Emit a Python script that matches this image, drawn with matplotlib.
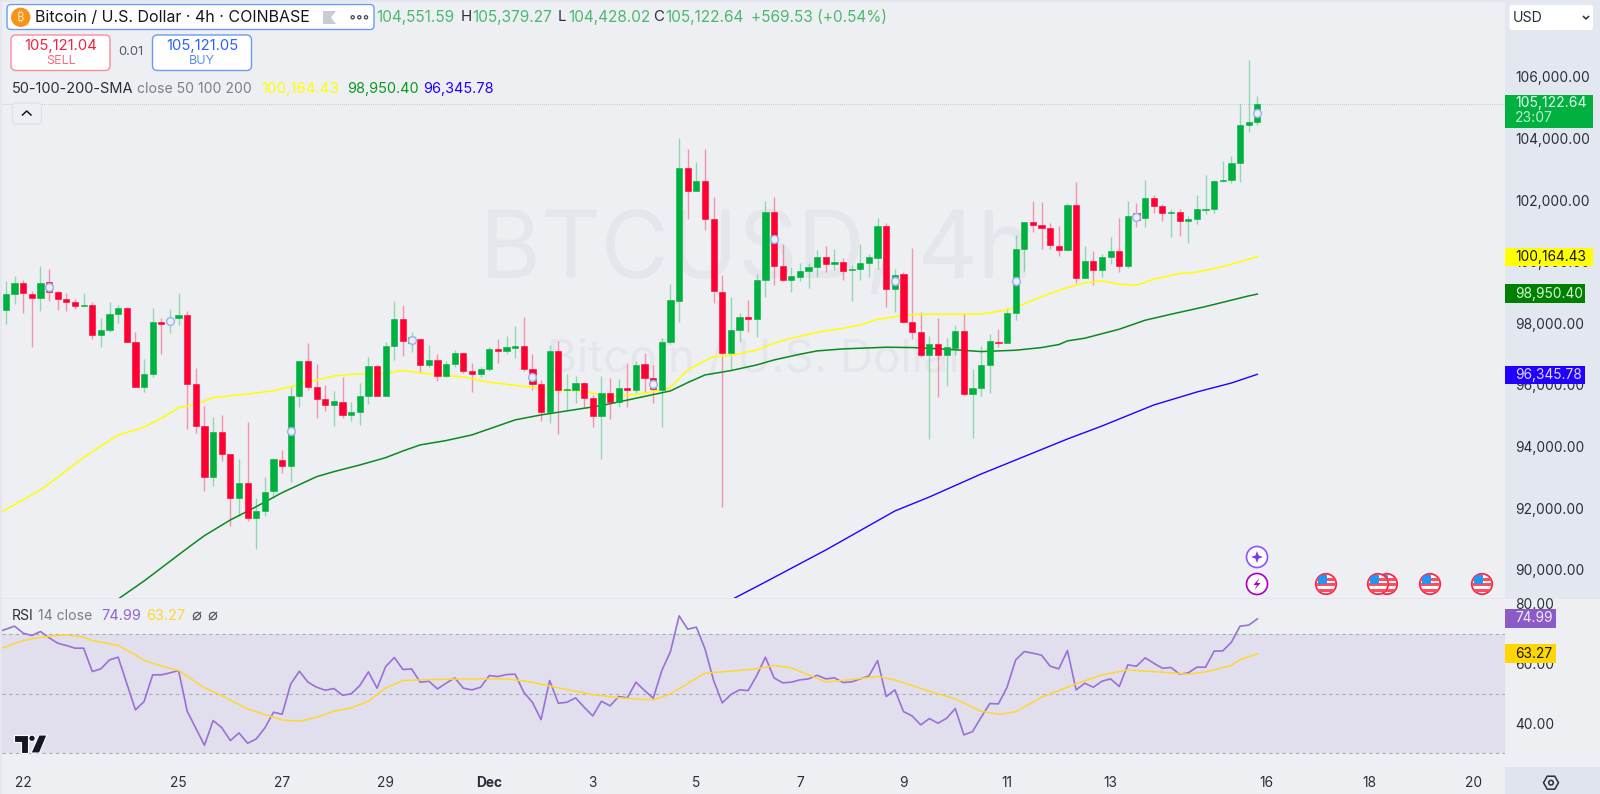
import numpy as np
import matplotlib
matplotlib.use('Agg')
import matplotlib.pyplot as plt
from matplotlib.patches import Rectangle, Circle, FancyBboxPatch, Polygon

plt.rcParams['font.family'] = ['Inter', 'DejaVu Sans']

# ---------------------------------------------------------
# DATA
# ---------------------------------------------------------

candle_dirs = ('GGRRGRRRRG' 'RGGGRRGGRG' 'GRRRGRRGRG' 'GGRGGRRRGR' 'GGGRGGRGRG'
               'RGGRRGGRGG' 'RRRGRGGRRG' 'RGRGRRGGGR' 'GRRRGGRGGR' 'RGGGGRGRGG'
               'GGRGRRRGRG' 'GRGGGRGGGR' 'RRRGRGRGGR' 'GRGRRGRGGG' 'GGGGGG')

highs = [99385, 99537, 99407, 99050, 99861, 99764, 99061, 98996, 98779, 98996,
         98704, 98163, 98704, 98596, 98520, 97730, 96832, 98487, 98184, 98466,
         98996, 98390, 96540, 95328, 94949, 95014, 93770, 93607, 94809, 92320,
         93002, 93629, 93889, 95945, 96789, 97373, 96680, 95988, 95815, 96258,
         95436, 96053, 96897, 96648, 97384, 98736, 98598, 97733, 97495, 97289,
         97008, 96781, 97138, 97084, 96727, 96575, 97246, 97484, 97592, 97917,
         98220, 97008, 96164, 97300, 97441, 96359, 96294, 96110, 95677, 96294,
         96218, 96196, 96705, 96791, 97030, 96651, 97516, 99269, 104008, 103662,
         103251, 103662, 102115, 99572, 98847, 98350, 98761, 99605, 101985, 102093,
         100568, 99821, 99952, 99952, 100385, 100515, 100417, 100114, 99898, 100580,
         100255, 101435, 101272, 99768, 99682, 100439, 98362, 97593, 98188, 97518,
         97950, 98329, 96522, 97269, 97658, 97810, 98491, 100872, 101305, 101986,
         101954, 101272, 101164, 101900, 102603, 100526, 100363, 100255, 100796, 101413,
         101976, 101921, 102657, 102170, 101878, 101727, 101727, 101489, 102159, 102809,
         102646, 103285, 103436, 105124, 106552, 105379.27]

body_tops = [98953, 99299, 99299, 98953, 99299, 99331, 99017, 98779, 98682, 98585,
             98585, 97784, 98314, 98509, 98509, 97394, 96356, 98033, 98033, 98152,
             98282, 98282, 96020, 94657, 94484, 94484, 93770, 92828, 92828, 91920,
             92536, 93586, 93553, 95642, 96789, 96789, 95945, 95544, 95479, 95458,
             95122, 95652, 96605, 96605, 97275, 98152, 98144, 97571, 97495, 96824,
             96824, 96683, 97051, 97051, 96467, 96532, 97181, 97181, 97224, 97257,
             97268, 96532, 96045, 97116, 97116, 95861, 96078, 96078, 95569, 95742,
             95742, 95915, 95915, 96651, 96672, 96240, 97397, 98750, 103056, 103056,
             102634, 102634, 101379, 99031, 97787, 98209, 98209, 99421, 101617, 101617,
             99875, 99540, 99714, 99822, 100158, 100158, 99995, 99985, 99757, 99952,
             100147, 101175, 101175, 99573, 99595, 98059, 97734, 97323, 97323, 97226,
             97767, 97767, 95895, 96663, 97431, 97410, 98340, 100417, 101283, 101283,
             101197, 101088, 100526, 101846, 101846, 100039, 100017, 100169, 100342, 100342,
             101499, 101575, 102073, 102073, 101824, 101608, 101608, 101402, 101705, 101727,
             102635, 102657, 103209, 104442, 104540, 105122.64]

body_bottoms = [98433, 98953, 98974, 98834, 98834, 99007, 98779, 98682, 98563, 98552,
                97622, 97622, 97784, 98314, 97394, 95945, 95945, 96356, 97979, 98022,
                98163, 96020, 94657, 93002, 93002, 93770, 92342, 92342, 91671, 91671,
                91920, 92558, 93380, 93380, 95642, 95945, 95544, 95350, 95350, 95025,
                95025, 95122, 95652, 95642, 95642, 97275, 97419, 97354, 96651, 96651,
                96294, 96294, 96683, 96467, 96370, 96348, 96521, 97095, 97095, 97213,
                96521, 96034, 95115, 95115, 95839, 95829, 95839, 95569, 94985, 94985,
                95439, 95439, 95829, 95829, 96229, 95861, 95839, 97397, 98739, 102299,
                102299, 101379, 99042, 97040, 97040, 97776, 98133, 98144, 99421, 99875,
                99421, 99421, 99519, 99703, 99844, 99920, 99920, 99703, 99725, 99757,
                99974, 100125, 99119, 99119, 98037, 97734, 96987, 96987, 96987, 96987,
                97193, 95700, 95700, 95895, 96663, 97366, 97366, 98329, 100417, 101186,
                101088, 100536, 100374, 100374, 99476, 99465, 99736, 99736, 100169, 99876,
                99876, 101359, 101424, 101824, 101575, 101575, 101326, 101326, 101391, 101694,
                101705, 102625, 102657, 103209, 104453, 104551.59]

lows = [97968, 98628, 98325, 97221, 98401, 98725, 98433, 98412, 98466, 98552,
        97492, 97221, 97730, 98022, 97384, 95945, 95782, 96248, 97005, 97676,
        97946, 94560, 94451, 92558, 92731, 93543, 91433, 91757, 91584, 90675,
        91757, 92320, 93131, 92861, 95274, 95836, 94917, 95155, 94679, 94917,
        94841, 94700, 95382, 95642, 95642, 96810, 96943, 97073, 96380, 96597,
        96142, 96272, 96575, 96402, 95774, 96250, 96467, 96727, 97008, 96867,
        96445, 95839, 94844, 94779, 94400, 95190, 95407, 95266, 94628, 93589,
        94887, 95298, 95277, 95731, 95731, 95407, 94649, 97332, 98057, 101379,
        102299, 101033, 98653, 92050, 96489, 97408, 97733, 97571, 98869, 99248,
        99388, 99031, 99389, 99141, 99519, 99682, 99736, 99411, 98740, 99411,
        99519, 99768, 98524, 98383, 98005, 97485, 96923, 94239, 95624, 95970,
        96977, 95678, 94293, 95657, 95732, 97226, 97355, 98113, 99714, 100980,
        100407, 100428, 100201, 100363, 99325, 99465, 99249, 99498, 99920, 99682,
        99801, 101121, 101142, 101597, 101316, 100818, 100839, 100601, 101229, 101543,
        101575, 102603, 102549, 102603, 104226, 104428.02]

sma50_idx = [-1, 4, 6, 9, 11, 13, 16, 18, 20, 22, 24, 28, 31, 33, 36, 38, 40, 44,
             46, 50, 53, 56, 59, 61, 63, 67, 69, 71, 74, 76, 77, 79, 81, 82, 84, 87, 89, 91,
             94, 97, 99, 101, 104, 106, 110, 113, 116, 118, 120, 123, 125, 127, 129, 131,
             133, 136, 138, 141, 144, 145]
sma50 = [91800, 92590, 93002, 93651, 94019, 94376, 94625, 94917, 95263, 95382, 95588,
         95707, 95815, 95945, 96161, 96291, 96345, 96378, 96470, 96326, 96261, 96088,
         95991, 95926, 95839, 95818, 95655, 95623, 95731, 95839, 95926, 96488, 96791,
         96921, 96954, 97138, 97354, 97516, 97712, 97842, 97950, 98134, 98264, 98297,
         98297, 98308, 98437, 98632, 98870, 99162, 99314, 99379, 99271, 99238, 99433,
         99617, 99660, 99844, 100082, 100164.43]

sma100_idx = [13, 16, 21, 23, 26, 29, 32, 36, 38, 41, 44, 46, 48, 51, 54, 56, 59, 62,
              65, 69, 73, 77, 79, 81, 84, 87, 89, 92, 94, 97, 102, 105, 109, 113, 117,
              120, 122, 123, 125, 129, 132, 135, 139, 144, 145]
sma100 = [89050, 89635, 90697, 91108, 91617, 92049, 92504, 93023, 93186, 93402, 93640,
          93857, 94054, 94195, 94379, 94574, 94866, 95028, 95158, 95331, 95569, 95807,
          96077, 96326, 96467, 96651, 96813, 96998, 97106, 97171, 97226, 97215, 97161,
          97085, 97128, 97215, 97312, 97431, 97518, 97810, 98102, 98297, 98546, 98892,
          98950.40]

sma200_idx = [84, 88, 95, 103, 107, 113, 123, 127, 133, 138, 142, 145]
sma200 = [89018, 89603, 90642, 91908, 92363, 93109, 94246, 94668, 95350, 95772, 96064,
          96345.78]

circle_idx = [5, 19, 33, 47, 61, 75, 89, 103, 117, 131, 145]
circle_price = [99169, 98087, 94495, 97452, 96272, 96034, 100752, 99368, 99379, 101467, 104821]

# first RSI value is one bar left of the visible window
rsi = [70.56,
       71.56, 72.57, 70.22, 69.44, 70.78, 68.66, 66.87, 66.09, 65.2, 65.2,
       57.37, 58.27, 61.28, 62.18, 53.35, 44.53, 47.32, 56.26, 56.26, 56.93,
       57.71, 44.08, 38.38, 32.68, 40.95, 38.6, 34.25, 36.82, 33.35, 34.8,
       38.49, 43.74, 43.07, 53.24, 57.49, 53.8, 52.12, 51.12, 51.68, 49.44,
       49.89, 52.68, 57.26, 51.79, 59.05, 62.07, 58.04, 58.27, 53.8, 54.13,
       51.56, 53.46, 55.25, 51.79, 51.23, 52.12, 56.03, 55.7, 56.37, 56.48,
       50.45, 47.09, 41.28, 54.36, 46.76, 47.09, 48.55, 45.42, 42.51, 47.43,
       45.87, 49.0, 48.55, 53.8, 51.0, 48.44, 57.71, 64.08, 76.03, 71.56,
       72.23, 64.97, 54.36, 46.87, 49.66, 51.23, 51.0, 56.03, 62.18, 55.25,
       53.58, 53.8, 54.58, 54.92, 56.15, 54.92, 55.25, 53.69, 53.91, 54.92,
       55.92, 61.06, 49.0, 51.23, 43.97, 42.51, 39.5, 41.62, 40.06, 41.73,
       44.97, 36.15, 37.26, 42.07, 46.65, 46.54, 52.12, 61.28, 64.08, 63.52,
       62.85, 59.16, 58.27, 64.41, 51.23, 53.46, 52.12, 54.13, 54.92, 52.35,
       59.61, 59.16, 61.96, 60.17, 58.49, 58.72, 56.48, 56.93, 58.83, 58.83,
       64.19, 64.3, 67.21, 72.57, 72.91, 74.99]

rsi_ma_idx = [-1, 2, 4, 7, 9, 10, 13, 15, 16, 18, 20, 23, 25, 28, 30, 32, 34, 36, 38,
              40, 42, 44, 46, 48, 53, 58, 61, 64, 68, 71, 75, 77, 81, 87, 89, 91, 95,
              98, 101, 103, 107, 110, 113, 115, 117, 120, 124, 127, 130, 134, 137, 139,
              142, 143, 145]
rsi_ma = [64.64, 67.77, 68.88, 69.66, 68.88, 67.77, 66.09, 62.96, 61.06, 59.27, 57.71,
          51.9, 49.33, 44.86, 42.96, 41.17, 40.73, 42.07, 44.08, 45.2, 47.43, 51.9,
          54.36, 54.58, 54.92, 54.92, 53.8, 51.9, 49.66, 48.55, 47.88, 49.89, 56.82,
          58.27, 59.39, 58.6, 53.91, 54.69, 55.7, 54.58, 50.78, 48.21, 44.08, 43.07,
          43.85, 48.77, 53.24, 56.26, 57.93, 57.15, 56.48, 57.26, 59.39, 61.4, 63.27]

price_ticks = [90000, 92000, 94000, 96000, 98000, 100000, 102000, 104000, 106000]
rsi_ticks = [40, 60, 80]
date_idx = [2, 20, 32, 44, 56, 68, 80, 92, 104, 116, 128, 146, 158, 170]
date_labels = ['22', '25', '27', '29', 'Dec', '3', '5', '7', '9', '11', '13', '16', '18', '20']

# ---------------------------------------------------------
# FIGURE
# ---------------------------------------------------------

BG = '#EDEFF3'
STRIP = '#E3E7F0'
GREEN = '#00B140'
RED = '#FF0033'
DARK = '#2A2E39'
GREY = '#7B7F8A'
W, H = 1600, 794

fig = plt.figure(figsize=(16, 7.94), dpi=100, facecolor=BG)

def pane(left, top, right, bottom, **kw):
    return fig.add_axes([left / W, 1 - bottom / H, (right - left) / W, (bottom - top) / H], **kw)

back = pane(0, 0, W, H, zorder=-1)
back.set_xlim(0, W)
back.set_ylim(H, 0)
back.axis('off')
back.add_patch(Rectangle((1505, 0), 95, 598, color=STRIP, lw=0))
back.add_patch(Rectangle((1505, 767), 95, 27, color='#E0E4EE', lw=0))
back.add_patch(Rectangle((0, 597.5), W, 1.5, color='#E2E5EE', lw=0))
back.add_patch(Rectangle((0, 0), 2, H, color='#E4E7EF', lw=0))
back.add_patch(Rectangle((0, 0), W, 1.5, color='#E4E7EF', lw=0))

xlim = (-0.46, 173.7)

# main pane
ax = pane(2, 0, 1505, 598, facecolor='none')
ax.set_xlim(*xlim)
ax.set_ylim(89083, 108500)
for s in ax.spines.values():
    s.set_visible(False)

ax.text(87, 100285, 'BTCUSD, 4h', fontsize=67, color='#E4E6EB', ha='center', va='center', zorder=0)
ax.text(87, 96811, 'Bitcoin / U.S. Dollar', fontsize=33, color='#E4E6EB', ha='center',
        va='center', zorder=0)

x = np.arange(len(highs))
colors = [GREEN if d == 'G' else RED for d in candle_dirs]
ax.vlines(x, lows, highs, colors=colors, lw=1.0, alpha=0.38, zorder=1)
ax.plot(sma50_idx, sma50, color='#FFFF00', lw=1.1, zorder=2)
ax.plot(sma100_idx, sma100, color='#0A8A1E', lw=1.1, zorder=2)
ax.plot(sma200_idx, sma200, color='#2200FF', lw=1.0, zorder=2)
ax.bar(x, np.array(body_tops) - np.array(body_bottoms), bottom=body_bottoms, width=0.72,
       color=colors, edgecolor=colors, lw=0.4, zorder=3)
ax.plot(circle_idx, circle_price, ls='none', marker='o', ms=5.6, mfc=BG, mec='#9DB4F0',
        mew=1.1, zorder=4)
ax.axhline(body_tops[-1], color=GREEN, lw=0.5, ls=(0, (1, 2)), alpha=0.55, zorder=1)

ax.yaxis.tick_right()
ax.set_yticks(price_ticks)
ax.set_yticklabels(['{:,.2f}'.format(p) for p in price_ticks])
ax.set_xticks([])
ax.tick_params(axis='y', length=0, pad=7.2, labelsize=9.9, labelcolor=DARK)

# RSI pane
ax2 = pane(2, 599, 1505, 767, facecolor='none')
ax2.set_xlim(*xlim)
ax2.set_ylim(25.4, 81.67)
for s in ax2.spines.values():
    s.set_visible(False)
ax2.axhspan(30, 70, color='#7E57C2', alpha=0.1, lw=0)
for lev in [70, 50, 30]:
    ax2.axhline(lev, color='#A9ABB5', lw=0.8, ls=(0, (3, 3)))
rsi_x = np.arange(len(rsi)) - 1
rsi_arr = np.array(rsi)
ax2.fill_between(rsi_x, rsi_arr, 70, where=rsi_arr > 70, interpolate=True, color='#E6F1EC', lw=0)
ax2.plot(rsi_x, rsi_arr, color='#9A70D6', lw=1.2)
ax2.plot(rsi_ma_idx, rsi_ma, color='#FFD633', lw=1.1)
ax2.yaxis.tick_right()
ax2.set_yticks(rsi_ticks)
ax2.set_yticklabels(['{:.2f}'.format(v) for v in rsi_ticks])
ax2.set_xticks(date_idx)
ax2.set_xticklabels(date_labels)
ax2.tick_params(axis='y', length=0, pad=7.2, labelsize=9.9, labelcolor=DARK)
ax2.tick_params(axis='x', length=0, pad=6.5, labelsize=9.9, labelcolor=DARK)
ax2.get_xticklabels()[4].set_fontweight('bold')

# ---------------------------------------------------------
# CHROME (header, tags, icons) in pixel coordinates
# ---------------------------------------------------------

top = pane(0, 0, W, H, zorder=5, facecolor='none')
top.set_xlim(0, W)
top.set_ylim(H, 0)
top.axis('off')

def label(px, py, s, color=DARK, size=13, ha='left', **kw):
    top.text(px, py, s, color=color, fontsize=size * 0.72, ha=ha, va='center', **kw)

def box(x0, y0, x1, y1, fc='white', ec='none', r=4, lw=1.0):
    top.add_patch(FancyBboxPatch((x0 + r, y0 + r), x1 - x0 - 2 * r, y1 - y0 - 2 * r,
                                 boxstyle='round,pad=%g,rounding_size=%g' % (r, r),
                                 fc=fc, ec=ec, lw=lw))

# title
box(7, 4.5, 374, 29.5, ec='#6C9BF2', r=4, lw=1.0)
top.add_patch(Circle((20.7, 17.3), 9.7, color='#F7931A', lw=0))
top.text(20.7, 17.3, '\u20bf', color='#FFE3B8', fontsize=9, ha='center', va='center',
         fontweight='bold', family=['Noto Sans', 'Roboto', 'Open Sans', 'Lato', 'Liberation Sans', 'DejaVu Sans'])
label(35, 17.3, 'Bitcoin / U.S. Dollar \u00b7 4h \u00b7 COINBASE', color='#131722', size=16)
top.add_patch(Polygon([(323, 11), (336, 11), (331, 17.5), (336, 24), (323, 24)], color='#C9CCD4', lw=0))
for cx in [352.7, 359.3, 366]:
    top.add_patch(Circle((cx, 17.3), 1.6, fc='white', ec='#40444F', lw=0.9))

# OHLC row
OHLC = '#4CB96F'
label(376, 17.3, '104,551.59', color=OHLC, size=15.4)
label(460.7, 17.3, 'H', size=15)
label(472.7, 17.3, '105,379.27', color=OHLC, size=15.4)
label(557.7, 17.3, 'L', size=15)
label(568.3, 17.3, '104,428.02', color=OHLC, size=15.4)
label(652.7, 17.3, 'C', size=15)
label(665, 17.3, '105,122.64', color=OHLC, size=15.4)
label(751, 17.3, '+569.53 (+0.54%)', color=OHLC, size=15.4)

# sell and buy
box(11, 35, 110, 70.5, ec='#FF8A9C', r=5)
label(61, 46, '105,121.04', color='#F5203F', size=14.8, ha='center')
label(61, 61.3, 'SELL', color='#FF6B81', size=12.5, ha='center')
label(130.7, 52, '0.01', color='#555965', size=13, ha='center')
box(152.5, 35, 251.5, 70.5, ec='#6C9BF2', r=5)
label(202, 46, '105,121.05', color='#2962FF', size=14.8, ha='center')
label(202, 61.3, 'BUY', color='#5B8DEF', size=12.5, ha='center')

# indicator legend
label(12, 88.7, '50-100-200-SMA', size=14.5)
label(137.3, 88.7, 'close 50 100 200', color=GREY, size=14)
label(261.7, 88.7, '100,164.43', color='#FFFF00', size=15)
label(346.7, 88.7, '98,950.40', color='#0A9A1E', size=14.5)
label(423, 88.7, '96,345.78', color='#2200FF', size=14.5)

box(12.5, 103, 41.5, 124, fc=BG, ec='#DEE1E8', r=3)
top.plot([22.5, 26.7, 31], [115, 111, 115], color='#131722', lw=1.1)

# USD selector
box(1509.5, 5, 1593, 30, r=3, lw=0)
label(1512.5, 18, 'USD', color=DARK, size=14.2)
top.plot([1583.5, 1586, 1588.5], [16.5, 19, 16.5], color=DARK, lw=1.1)

# price tags
def tag(x1, y0, y1, fc, txt, tc):
    top.add_patch(Rectangle((1505, y0), x1 - 1505, y1 - y0, color=fc, lw=0))
    label(1515, (y0 + y1) / 2, txt, color=tc, size=13.7)

top.add_patch(Rectangle((1505, 95), 88, 33, color='#00B140', lw=0))
label(1515, 103.5, '105,122.64', color='#E8FFF0', size=13.9)
label(1515, 118, '23:07', color='#BFEFD0', size=13.9)
tag(1593, 247.7, 265.7, '#FFFF00', '100,164.43', '#131722')
tag(1585, 284.3, 303, '#008000', '98,950.40', '#D6F5D6')
tag(1585, 365.7, 384, '#2200FF', '96,345.78', '#DDD9FF')
tag(1556, 609.3, 627.7, '#8B5CC8', '74.99', '#F2ECFA')
tag(1556, 644.3, 662.7, '#FFD600', '63.27', '#131722')

# RSI legend
label(12, 616, 'RSI', size=14)
label(38, 616, '14 close', color=GREY, size=14)
label(101, 616, '74.99', color='#8E66D0', size=14.5)
label(146, 616, '63.27', color='#FFD633', size=14.5)
for cx in [197, 213]:
    top.add_patch(Circle((cx, 616), 3.6, fc='none', ec='#555965', lw=0.9))
    top.plot([cx - 3.6, cx + 3.6], [619.6, 612.4], color='#555965', lw=0.9)

# TradingView mark
TV = dict(fc='#131722', ec='white', lw=0.8)
top.add_patch(Polygon([(14, 735), (27.5, 735), (27.5, 753), (21, 753), (21, 741.5), (14, 741.5)], **TV))
top.add_patch(Circle((32, 738.3), 3.2, **TV))
top.add_patch(Polygon([(39, 735), (47, 735), (39.5, 753), (31, 753)], **TV))

# event icons
def event_icon(cx, cy, ec):
    top.add_patch(Circle((cx, cy), 10.5, fc='white', ec=ec, lw=1.2))

event_icon(1257, 557, '#8C52FF')
top.add_patch(Polygon([(1257, 551), (1258.6, 555.4), (1263, 557), (1258.6, 558.6), (1257, 563),
                       (1255.4, 558.6), (1251, 557), (1255.4, 555.4)], color='#7C3AED', lw=0))
event_icon(1257, 584, '#AA00BB')
top.add_patch(Polygon([(1259.5, 578), (1253.5, 585), (1257, 585), (1254.5, 590), (1260.5, 583),
                       (1257, 583)], color='#AA00BB', lw=0))

def flag(cx, cy):
    c = Circle((cx, cy), 10.2, fc='white', ec='#FF2244', lw=1.3)
    top.add_patch(c)
    for dy in [-6, -1, 5]:
        st = Rectangle((cx - 10, cy + dy), 20, 3, color='#FF4D60', lw=0)
        top.add_patch(st)
        st.set_clip_path(c)
    ca = Rectangle((cx - 8, cy - 9), 9, 9, color='#2196F3', lw=0)
    top.add_patch(ca)
    ca.set_clip_path(c)

for fx in [1326, 1387, 1378, 1430, 1482]:
    flag(fx, 584)

# settings icon
ang = np.deg2rad([0, 60, 120, 180, 240, 300])
top.add_patch(Polygon(np.c_[1551 + 7.5 * np.cos(ang), 782.7 + 7.5 * np.sin(ang)], fc='none', ec='#2A2E39', lw=1.1))
top.add_patch(Circle((1551, 782.7), 2.3, fc='none', ec='#2A2E39', lw=1.1))

fig.savefig('out.png', dpi=100, facecolor=BG)
